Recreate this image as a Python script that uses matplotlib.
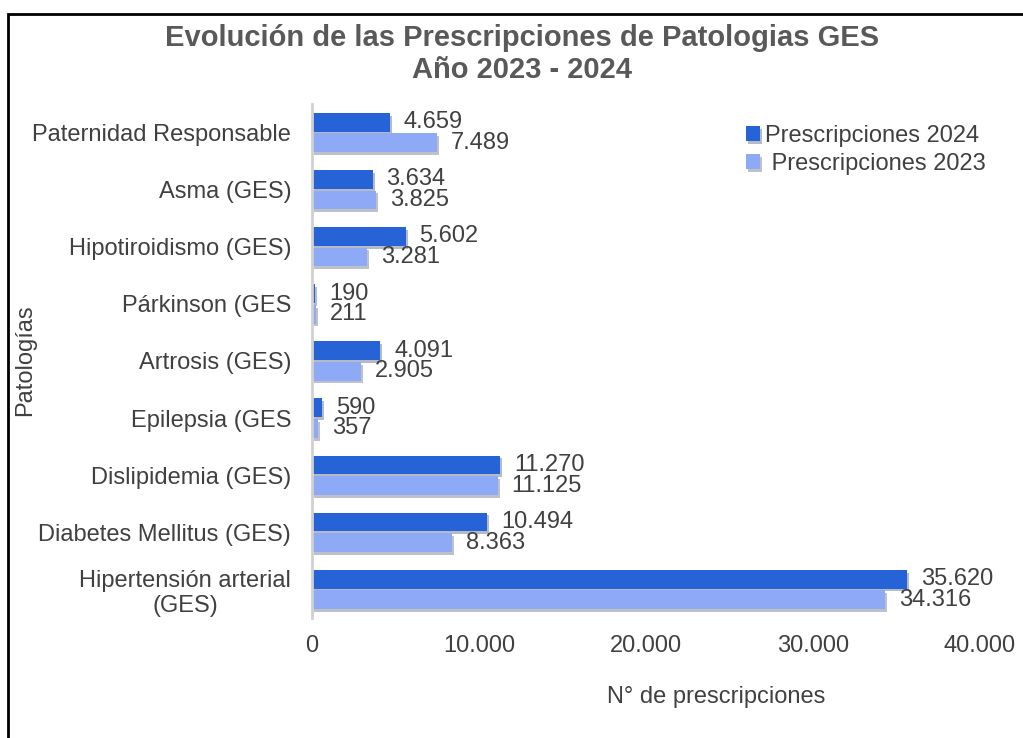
import numpy as np
import matplotlib
matplotlib.use("Agg")
import matplotlib.pyplot as plt
import matplotlib.patheffects as pe
from matplotlib.patches import Rectangle

plt.rcParams['font.family'] = ['Liberation Sans', 'DejaVu Sans']

# Datos (de abajo hacia arriba)
patologias = ["Hipertensión arterial\n(GES)", "Diabetes Mellitus (GES)", "Dislipidemia (GES)",
              "Epilepsia (GES", "Artrosis (GES)", "Párkinson (GES",
              "Hipotiroidismo (GES)", "Asma (GES)", "Paternidad Responsable"]
presc_2024 = [35620, 10494, 11270, 590, 4091, 190, 5602, 3634, 4659]
presc_2023 = [34316, 8363, 11125, 357, 2905, 211, 3281, 3825, 7489]

def fmt(v):
    return f"{v:,}".replace(",", ".")

color_2024 = "#2563d6"
color_2023 = "#8eaaf6"
texto = "#404040"

fig = plt.figure(figsize=(10.23, 7.38), dpi=100)
ax = fig.add_axes([312/1023, 1 - 618/738, 668/1023, 514/738])

y = np.arange(len(patologias))
h = 0.33
d = 0.18
sombra = [pe.SimplePatchShadow(offset=(1.5, -2), alpha=0.3), pe.Normal()]

b1 = ax.barh(y + d, presc_2024, height=h, color=color_2024, label="Prescripciones 2024")
b2 = ax.barh(y - d, presc_2023, height=h, color=color_2023, label=" Prescripciones 2023")
for barras in (b1, b2):
    for r in barras:
        r.set_path_effects(sombra)

for yi, v in zip(y, presc_2024):
    ax.annotate(fmt(v), (v, yi + d), xytext=(10, 0), textcoords="offset points",
                va="center", ha="left", fontsize=17, color=texto)
for yi, v in zip(y, presc_2023):
    ax.annotate(fmt(v), (v, yi - d), xytext=(10, 0), textcoords="offset points",
                va="center", ha="left", fontsize=17, color=texto)

ax.set_xlim(0, 40000)
ax.set_ylim(-0.5, 8.5)
ax.set_xticks([0, 10000, 20000, 30000, 40000])
ax.set_xticklabels([fmt(v) for v in [0, 10000, 20000, 30000, 40000]])
ax.set_yticks(y)
ax.set_yticklabels(patologias)
ax.tick_params(axis="both", length=0, labelsize=17, labelcolor=texto)
ax.tick_params(axis="x", pad=12)
ax.tick_params(axis="y", pad=15)
for lbl in ax.get_yticklabels():
    lbl.set_multialignment("center")

for s in ["top", "right", "bottom"]:
    ax.spines[s].set_visible(False)
ax.spines["left"].set_color("#d0d0d0")
ax.spines["left"].set_linewidth(2)

ax.legend(loc="upper left", bbox_to_anchor=(0.618, 1.0), frameon=False, fontsize=17,
          handlelength=0.6, handleheight=0.6, handletextpad=0.2, labelspacing=0.25,
          labelcolor=texto)

fig.text(0.51, 1 - 54/738, "Evolución de las Prescripciones de Patologias GES\nAño 2023 - 2024",
         ha="center", va="center", fontsize=21, fontweight="bold", color="#595959",
         linespacing=1.2)
fig.text(716/1023, 1 - 697/738, "N° de prescripciones", ha="center", va="center",
         fontsize=17, color=texto)
fig.text(25/1023, 1 - 360/738, "Patologías", ha="center", va="center", rotation=90,
         fontsize=17, color=texto)

fig.patches.append(Rectangle((8/1023, -0.05), 1.1, 1 - 14/738 + 0.05,
                             transform=fig.transFigure, fill=False, edgecolor="black",
                             linewidth=2, clip_on=False))

fig.savefig("out.png", dpi=100)
